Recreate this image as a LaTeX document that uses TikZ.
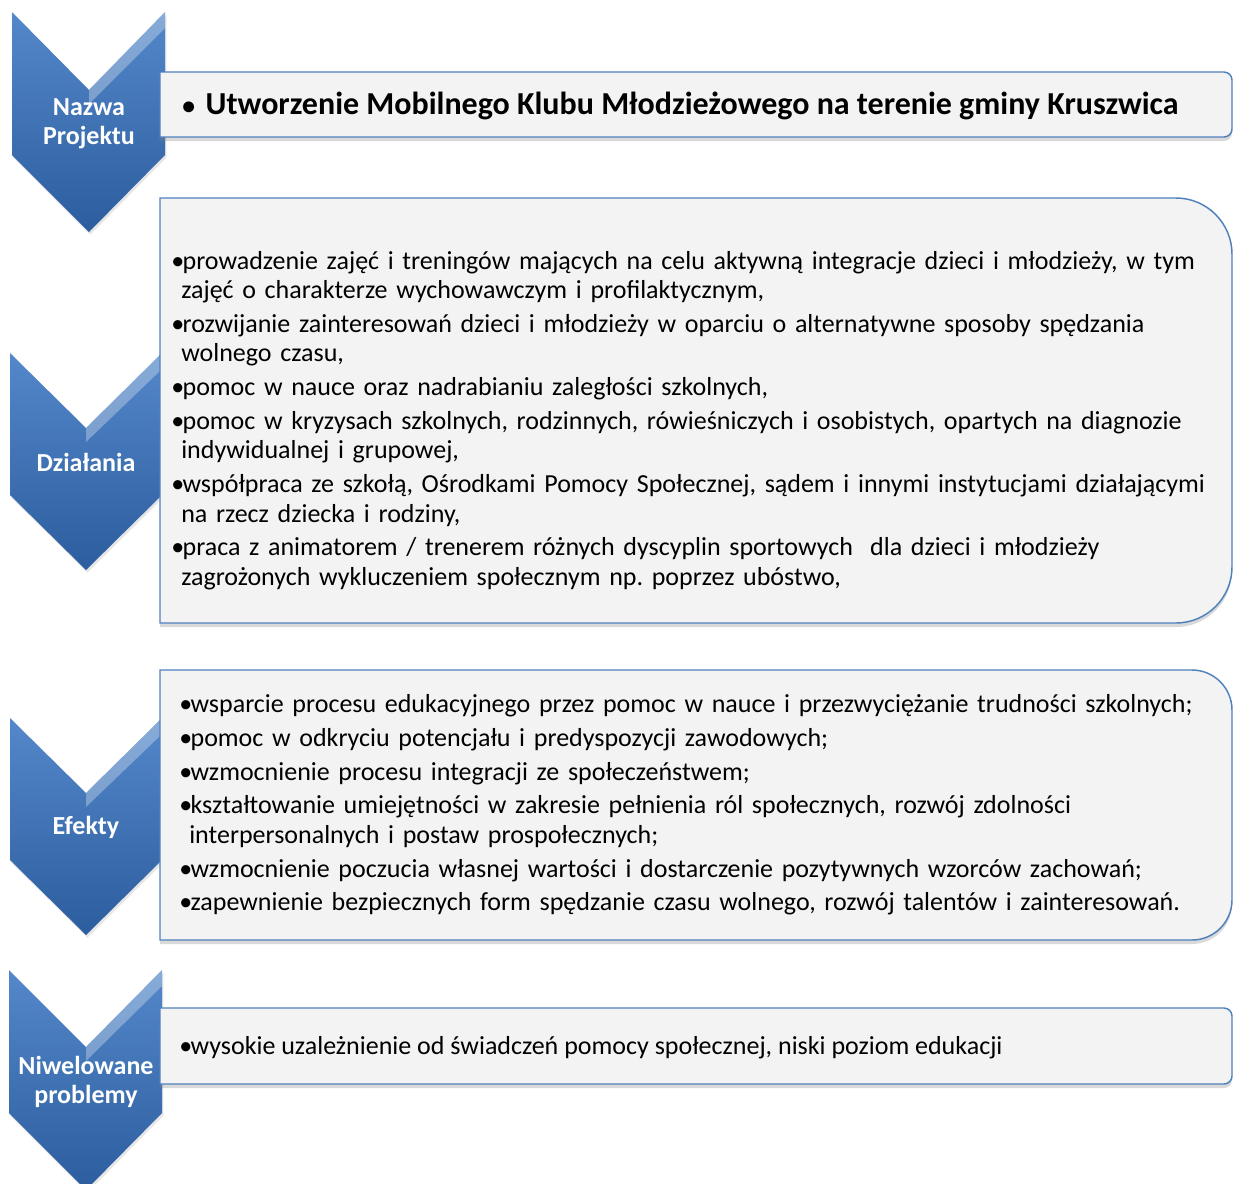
\documentclass[tikz,border=0pt]{standalone}
\usepackage{fontspec}
\setmainfont{Carlito}
\usetikzlibrary{positioning,shadows}
\definecolor{chevtop}{RGB}{84,136,202}
\definecolor{chevbot}{RGB}{44,93,158}
\definecolor{boxline}{RGB}{79,129,189}
\definecolor{boxfill}{RGB}{243,243,243}
\newlength{\pktsep}
\setlength{\pktsep}{3.4pt}
\newcommand{\pkt}[1]{\noindent\hangindent=7.5pt\hangafter=1\makebox[8.5pt][l]{•}#1\par\vspace{\pktsep}}
\frenchspacing
\tikzset{
  chevron/.style={top color=chevtop, bottom color=chevbot,
                  drop shadow={shadow xshift=1pt, shadow yshift=-2pt, opacity=0.2}},
  shine/.style={fill=white, fill opacity=0.3},
  infobox/.style={fill=boxfill, draw=boxline, line width=1.1pt,
                  drop shadow={shadow xshift=0pt, shadow yshift=-3pt, opacity=0.3}},
  chevlabel/.style={text=white, font=\bfseries\fontsize{19.5}{22}\selectfont, align=center, inner sep=0pt},
  listtext/.style={anchor=north west, inner sep=0pt, text width=800pt, align=left,
                   font=\fontsize{19.5}{22}\selectfont},
}
\begin{document}
\begin{tikzpicture}[x=0.75pt, y=-0.75pt]
  \useasboundingbox (0,0) rectangle (1233,1183);

  % chevrons
  \path[chevron] (12,12) -- ++(77,78) -- ++(76,-78) -- ++(0,143) -- ++(-76,77) -- ++(-77,-77) -- cycle;
  \path[chevron] (10,353) -- ++(76,75) -- ++(76,-75) -- ++(0,142) -- ++(-76,75) -- ++(-76,-75) -- cycle;
  \path[chevron] (10,718) -- ++(76,75) -- ++(76,-75) -- ++(0,142) -- ++(-76,75) -- ++(-76,-75) -- cycle;
  \path[chevron] (9,970) -- ++(77,77) -- ++(76,-77) -- ++(0,143) -- ++(-76,77) -- ++(-77,-77) -- cycle;
  \fill[shine] (89,90) -- (165,12) -- (165,28) -- (89,104) -- cycle;
  \fill[shine] (86,428) -- (162,353) -- (162,369) -- (86,442) -- cycle;
  \fill[shine] (86,793) -- (162,718) -- (162,734) -- (86,807) -- cycle;
  \fill[shine] (86,1047) -- (162,970) -- (162,986) -- (86,1061) -- cycle;

  % boxes
  \path[infobox] (160,72) -- (1224,72) .. controls (1228.4,72) and (1232,75.6) .. (1232,80)
    -- (1232,129) .. controls (1232,133.4) and (1228.4,137) .. (1224,137) -- (160,137) -- cycle;
  \path[infobox] (160,198) -- (1176,198) .. controls (1206.8,198) and (1232,223.2) .. (1232,254)
    -- (1232,567) .. controls (1232,597.8) and (1206.8,623) .. (1176,623) -- (160,623) -- cycle;
  \path[infobox] (160,670) -- (1192,670) .. controls (1214,670) and (1232,688) .. (1232,710)
    -- (1232,900) .. controls (1232,922) and (1214,940) .. (1192,940) -- (160,940) -- cycle;
  \path[infobox] (160,1008) -- (1224,1008) .. controls (1228.4,1008) and (1232,1011.6) .. (1232,1016)
    -- (1232,1076) .. controls (1232,1080.4) and (1228.4,1084) .. (1224,1084) -- (160,1084) -- cycle;

  % labels
  \node[chevlabel] (nazwa) at (89,124) {Nazwa\\Projektu};
  \node[chevlabel] (dzialania) at (86,462) {Działania};
  \node[chevlabel] (efekty) at (86,827) {Efekty};
  \node[chevlabel] (niwelowane) at (86,1082) {Niwelowane\\problemy};

  % texts
  \node[anchor=west, inner sep=0pt, font=\bfseries\fontsize{24}{28}\selectfont] (projekt) at (182,106)
    {\scalebox{0.8}{•}\hspace{8pt}Utworzenie Mobilnego Klubu Młodzieżowego na terenie gminy Kruszwica};
  \node[listtext] (dzialaniatxt) at (171,251) {%
    \pkt{prowadzenie zajęć i treningów mających na celu aktywną integracje dzieci i młodzieży, w tym\newline zajęć o charakterze wychowawczym i profilaktycznym,}
    \pkt{rozwijanie zainteresowań dzieci i młodzieży w oparciu o alternatywne sposoby spędzania\newline wolnego czasu,}
    \pkt{pomoc w nauce oraz nadrabianiu zaległości szkolnych,}
    \pkt{pomoc w kryzysach szkolnych, rodzinnych, rówieśniczych i osobistych, opartych na diagnozie\newline indywidualnej i grupowej,}
    \pkt{współpraca ze szkołą, Ośrodkami Pomocy Społecznej, sądem i innymi instytucjami działającymi\newline na rzecz dziecka i rodziny,}
    \pkt{praca z animatorem / trenerem różnych dyscyplin sportowych~ dla dzieci i młodzieży\newline zagrożonych wykluczeniem społecznym np. poprzez ubóstwo,}};
  \node[listtext] (efektytxt) at (179,694) {%
    \pkt{wsparcie procesu edukacyjnego przez pomoc w nauce i przezwyciężanie trudności szkolnych;}
    \pkt{pomoc w odkryciu potencjału i predyspozycji zawodowych;}
    \pkt{wzmocnienie procesu integracji ze społeczeństwem;}
    \pkt{kształtowanie umiejętności w zakresie pełnienia ról społecznych, rozwój zdolności\newline interpersonalnych i postaw prospołecznych;}
    \pkt{wzmocnienie poczucia własnej wartości i dostarczenie pozytywnych wzorców zachowań;}
    \pkt{zapewnienie bezpiecznych form spędzanie czasu wolnego, rozwój talentów i zainteresowań.}};
  \node[anchor=west, inner sep=0pt, font=\fontsize{19.5}{22}\selectfont] (problemytxt) at (179,1048)
    {\makebox[8.5pt][l]{•}wysokie uzależnienie od świadczeń pomocy społecznej, niski poziom edukacji};

\end{tikzpicture}
\end{document}
